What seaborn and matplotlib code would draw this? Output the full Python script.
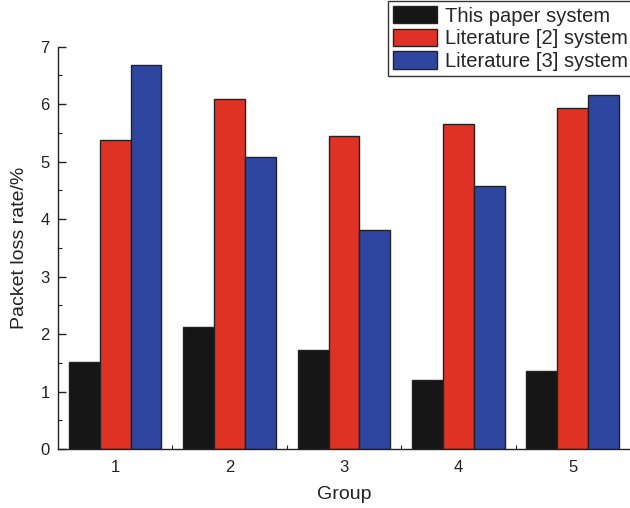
import matplotlib
matplotlib.use("Agg")
import matplotlib.pyplot as plt
import seaborn as sns
import pandas as pd
from matplotlib.ticker import MultipleLocator, FixedLocator

groups = ["1", "2", "3", "4", "5"]
series_names = ["This paper system", "Literature [2] system", "Literature [3] system"]
this_paper = [1.51, 2.12, 1.72, 1.21, 1.36]
literature2 = [5.38, 6.09, 5.45, 5.66, 5.93]
literature3 = [6.69, 5.09, 3.82, 4.58, 6.16]
colors = ["#151515", "#E03224", "#2F46A0"]

rows = []
for name, vals in zip(series_names, [this_paper, literature2, literature3]):
    for g, v in zip(groups, vals):
        rows.append({"Group": g, "System": name, "Rate": v})
df = pd.DataFrame(rows)

sns.set_style("ticks")
plt.rcParams['font.family'] = ['Liberation Sans', 'DejaVu Sans']

fig = plt.figure(figsize=(6.3, 5.08), dpi=100)
ax = fig.add_axes([0.092, 0.116, 0.908, 0.792])

sns.barplot(data=df, x="Group", y="Rate", hue="System", order=groups,
            hue_order=series_names, palette=colors, width=0.81,
            edgecolor="#222222", linewidth=1.0, saturation=1, ax=ax,
            errorbar=None)

ax.set_xlim(-0.5, 4.5)
ax.set_ylim(0, 7)
ax.yaxis.set_major_locator(MultipleLocator(1))
ax.yaxis.set_minor_locator(MultipleLocator(0.5))
ax.xaxis.set_minor_locator(FixedLocator([0.5, 1.5, 2.5, 3.5]))
ax.tick_params(axis="both", which="major", direction="in", length=6, width=1,
               labelsize=12, colors="#222222", pad=6)
ax.tick_params(axis="both", which="minor", direction="in", length=3, width=0.8,
               colors="#222222")
ax.tick_params(axis="x", which="major", pad=8)
for s in ["top", "right"]:
    ax.spines[s].set_visible(False)
for s in ["left", "bottom"]:
    ax.spines[s].set_color("#222222")
    ax.spines[s].set_linewidth(1.0)

ax.set_xlabel("Group", fontsize=14, labelpad=8, color="#222222")
ax.set_ylabel("Packet loss rate/%", fontsize=14, labelpad=9, color="#222222")

handles, labels = ax.get_legend_handles_labels()
ax.legend_.remove()
leg = fig.legend(handles, labels, loc="upper right", bbox_to_anchor=(1.005, 0.998),
                 bbox_transform=fig.transFigure, fontsize=14.5, frameon=True,
                 fancybox=False, edgecolor="#333333", framealpha=1,
                 handlelength=2.2, handleheight=0.95, labelspacing=0.15,
                 handletextpad=0.4, borderpad=0.25, borderaxespad=0.0)
leg.get_frame().set_linewidth(1.0)

fig.savefig("out.png", dpi=100)
